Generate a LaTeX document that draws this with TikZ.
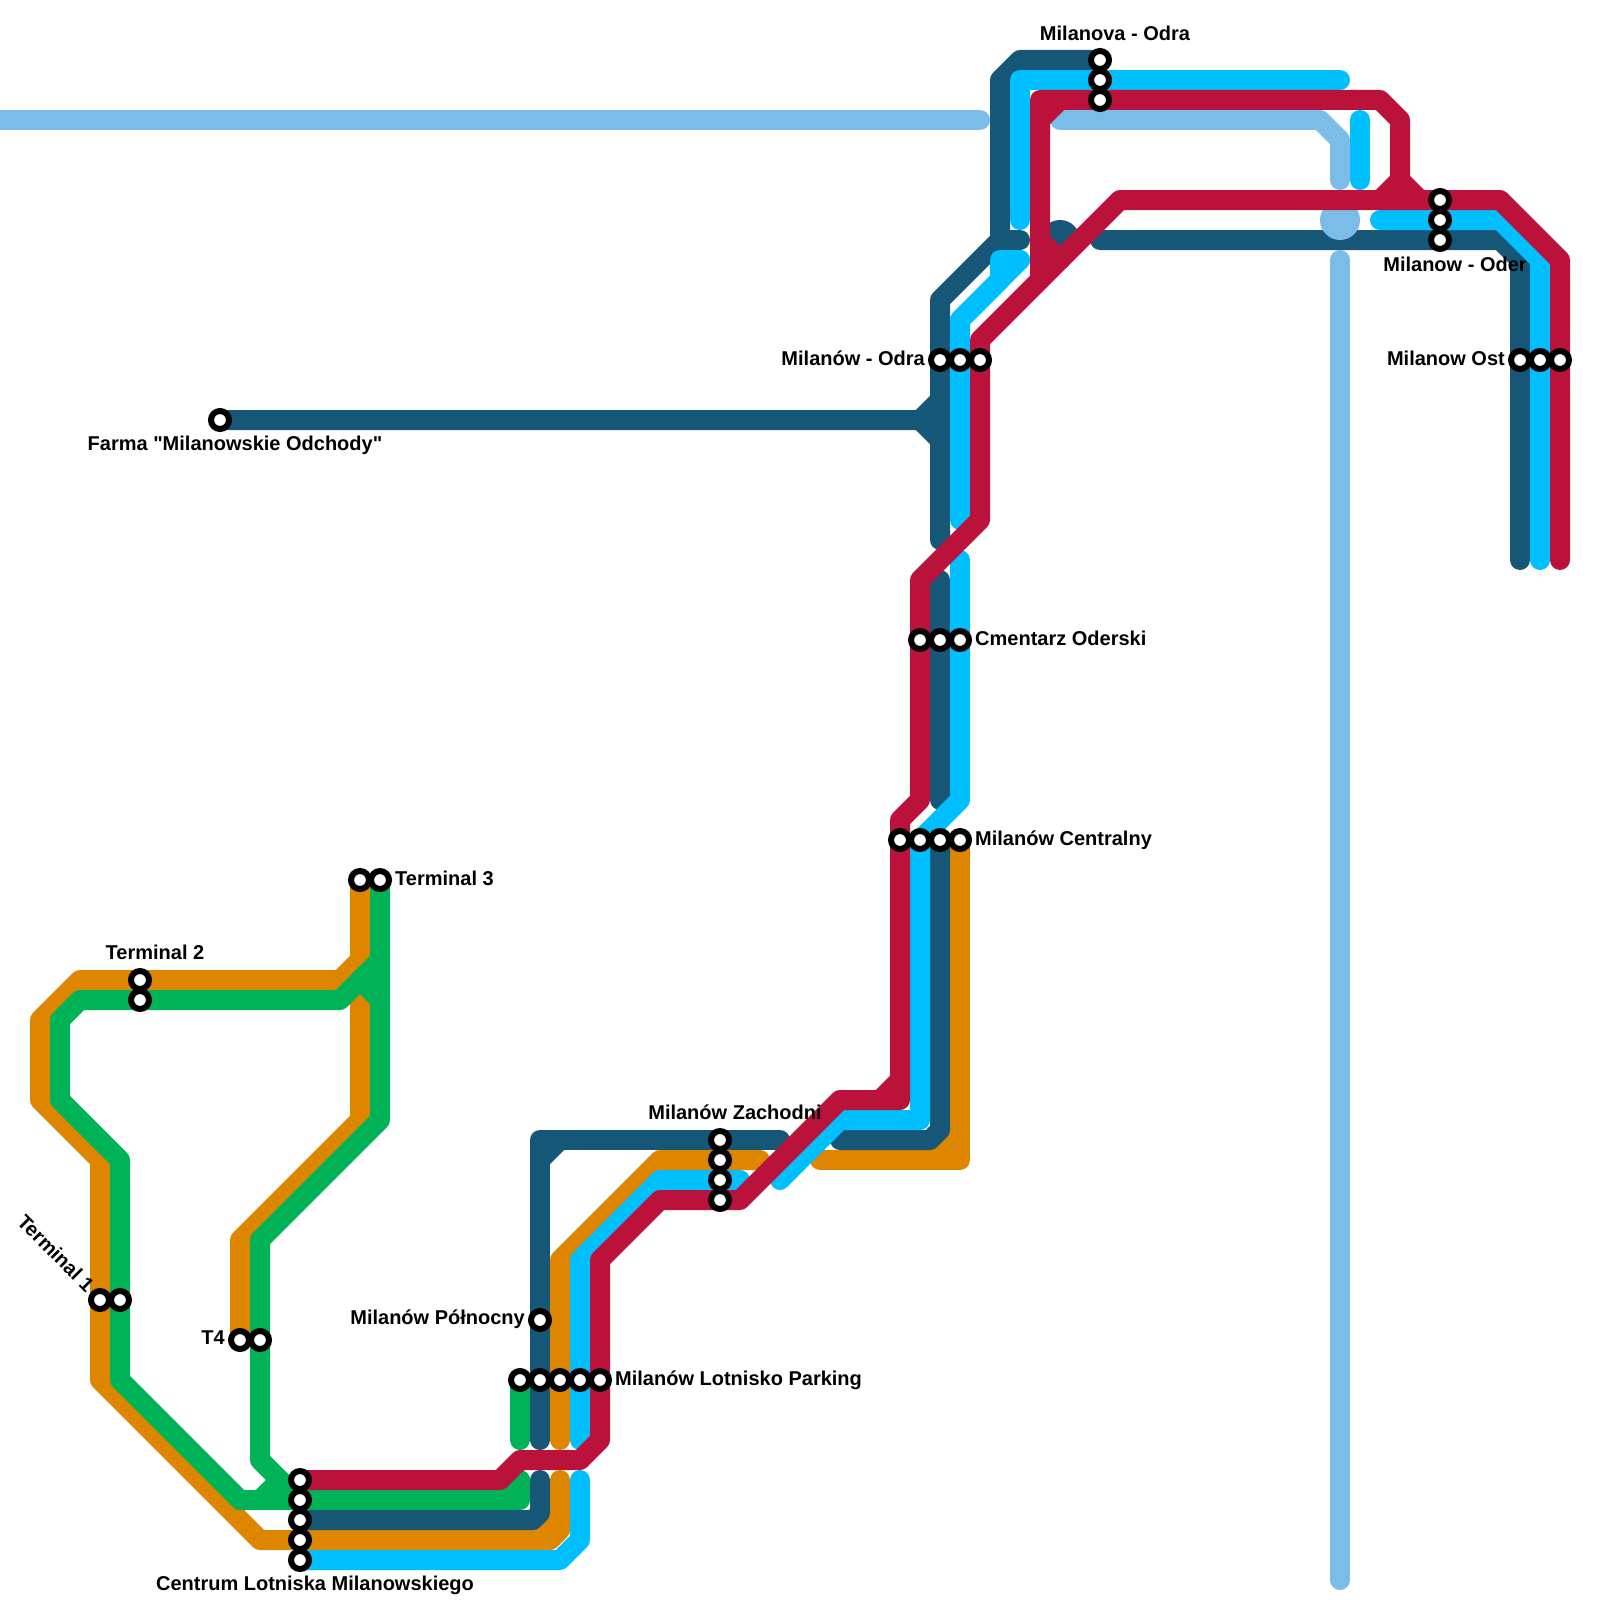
\documentclass[tikz,border=0pt]{standalone}
\usepackage{fontspec}
\setmainfont{Liberation Sans}[Ligatures=TeXOff]
\usetikzlibrary{positioning}
\definecolor{lineRed}{HTML}{BB123C}
\definecolor{lineCyan}{HTML}{00BFFF}
\definecolor{lineSky}{HTML}{7BBCE8}
\definecolor{lineNavy}{HTML}{165778}
\definecolor{lineOrange}{HTML}{DE8600}
\definecolor{lineGreen}{HTML}{00B356}

\begin{document}
\begin{tikzpicture}[
    x=1pt, y=-1pt,
    metro/.style={line width=20pt, line cap=round, line join=round},
    red line/.style={metro, draw=lineRed},
    cyan line/.style={metro, draw=lineCyan},
    sky line/.style={metro, draw=lineSky},
    navy line/.style={metro, draw=lineNavy},
    orange line/.style={metro, draw=lineOrange},
    green line/.style={metro, draw=lineGreen},
    station/.style={draw=black, fill=white, circle, line width=6pt, minimum size=18pt, inner sep=0pt, outer sep=0pt},
    place/.style={font=\fontsize{20}{22}\selectfont\bfseries, inner sep=0pt, text=black}
]
    \useasboundingbox (0,0) rectangle (1600,1600);

    % Orange
    \draw[orange line] (360,880) -- (360,960) -- (340,980) -- (80,980) -- (40,1020) -- (40,1100) -- (100,1160) -- (100,1380) -- (260,1540) -- (550,1540) -- (560,1530) -- (560,1480);
    \draw[orange line] (560,1510) -- (530,1540);
    \draw[orange line] (360,1000) -- (360,1120) -- (240,1240) -- (240,1340);
    \draw[orange line] (760,1160) -- (660,1160) -- (560,1260) -- (560,1440);
    \draw[orange line] (960,840) -- (960,1160) -- (820,1160);
    \draw[orange line] (960,1130) -- (930,1160);

    % Green
    \draw[green line] (380,880) -- (380,1120) -- (260,1240) -- (260,1460) -- (300,1500);
    \draw[green line] (380,960) -- (340,1000) -- (80,1000) -- (60,1020) -- (60,1100) -- (120,1160) -- (120,1380) -- (240,1500) -- (520,1500) -- (520,1480);
    \draw[green line] (360,980) -- (380,1000);
    \draw[green line] (260,1500) -- (280,1480);
    \draw[green line] (500,1500) -- (520,1480);
    \draw[green line] (520,1380) -- (520,1440);

    % Navy
    \draw[navy line] (1100,60) -- (1020,60) -- (1000,80) -- (1000,240) -- (1020,240);
    \draw[navy line] (1000,240) -- (940,300) -- (940,540);
    \draw[navy line] (220,420) -- (920,420) -- (940,400);
    \draw[navy line] (920,420) -- (940,440);
    \fill[lineNavy] (1060,240) circle (20pt);
    \draw[navy line] (1100,240) -- (1500,240) -- (1520,260) -- (1520,560);
    \draw[navy line] (940,580) -- (940,800);
    \draw[navy line] (940,840) -- (940,1130) -- (930,1140) -- (840,1140);
    \draw[navy line] (780,1140) -- (540,1140) -- (540,1440);
    \draw[navy line] (560,1140) -- (540,1160);
    \draw[navy line] (540,1480) -- (540,1513) -- (533,1520) -- (300,1520);

    % Cyan
    \draw[cyan line] (1340,80) -- (1020,80) -- (1020,220);
    \draw[cyan line] (1360,120) -- (1360,180);
    \draw[cyan line] (1380,220) -- (1500,220) -- (1540,260) -- (1540,560);
    \draw[cyan line] (1020,260) -- (1000,260) -- (1000,280) -- (960,320) -- (960,520);
    \draw[cyan line] (1020,260) -- (960,320);
    \draw[cyan line] (960,560) -- (960,800) -- (920,840) -- (920,1120) -- (840,1120) -- (780,1180);
    \draw[cyan line] (740,1180) -- (660,1180) -- (580,1260) -- (580,1440);
    \draw[cyan line] (580,1480) -- (580,1540) -- (560,1560) -- (300,1560);

    % Sky
    \draw[sky line] (0,120) -- (980,120);
    \draw[sky line] (1060,120) -- (1320,120) -- (1340,140) -- (1340,180);
    \fill[lineSky] (1340,220) circle (20pt);
    \draw[sky line] (1340,260) -- (1340,1580);

    % Red
    \draw[red line] (1060,100) -- (1040,120);
    \draw[red line] (1040,280) -- (1040,100) -- (1380,100) -- (1400,120) -- (1400,180) -- (1420,200);
    \draw[red line] (1400,180) -- (1380,200);
    \draw[red line] (1040,240) -- (1060,260);
    \draw[red line] (1560,560) -- (1560,260) -- (1500,200) -- (1120,200) -- (980,340) -- (980,520) -- (920,580) -- (920,800) -- (900,820) -- (900,1100) -- (840,1100) -- (740,1200) -- (660,1200) -- (600,1260) -- (600,1440) -- (580,1460) -- (520,1460) -- (500,1480) -- (300,1480);
    \draw[red line] (900,1080) -- (880,1100);

    % Stations
    \node[station] (novaA) at (1100,60) {};
    \node[station] (novaB) at (1100,80) {};
    \node[station] (novaC) at (1100,100) {};
    \node[station] (oderA) at (1440,200) {};
    \node[station] (oderB) at (1440,220) {};
    \node[station] (oderC) at (1440,240) {};
    \node[station] (ostA) at (1520,360) {};
    \node[station] (ostB) at (1540,360) {};
    \node[station] (ostC) at (1560,360) {};
    \node[station] (odraA) at (940,360) {};
    \node[station] (odraB) at (960,360) {};
    \node[station] (odraC) at (980,360) {};
    \node[station] (farma) at (220,420) {};
    \node[station] (cmentarzA) at (920,640) {};
    \node[station] (cmentarzB) at (940,640) {};
    \node[station] (cmentarzC) at (960,640) {};
    \node[station] (centralA) at (900,840) {};
    \node[station] (centralB) at (920,840) {};
    \node[station] (centralC) at (940,840) {};
    \node[station] (centralD) at (960,840) {};
    \node[station] (termThreeA) at (360,880) {};
    \node[station] (termThreeB) at (380,880) {};
    \node[station] (termTwoA) at (140,980) {};
    \node[station] (termTwoB) at (140,1000) {};
    \node[station] (termOneA) at (100,1300) {};
    \node[station] (termOneB) at (120,1300) {};
    \node[station] (termFourA) at (240,1340) {};
    \node[station] (termFourB) at (260,1340) {};
    \node[station] (zachodA) at (720,1140) {};
    \node[station] (zachodB) at (720,1160) {};
    \node[station] (zachodC) at (720,1180) {};
    \node[station] (zachodD) at (720,1200) {};
    \node[station] (polnoc) at (540,1320) {};
    \node[station] (parkA) at (520,1380) {};
    \node[station] (parkB) at (540,1380) {};
    \node[station] (parkC) at (560,1380) {};
    \node[station] (parkD) at (580,1380) {};
    \node[station] (parkE) at (600,1380) {};
    \node[station] (centrumA) at (300,1480) {};
    \node[station] (centrumB) at (300,1500) {};
    \node[station] (centrumC) at (300,1520) {};
    \node[station] (centrumD) at (300,1540) {};
    \node[station] (centrumE) at (300,1560) {};

    % Labels
    \node[place, above=10pt of novaA, xshift=15pt] (novaLabel) {Milanova - Odra};
    \node[place, below=8pt of oderC, xshift=15pt] (oderLabel) {Milanow - Oder};
    \node[place, left=6pt of ostA, yshift=2pt] (ostLabel) {Milanow Ost};
    \node[place, left=6pt of odraA, yshift=2pt] (odraLabel) {Milanów - Odra};
    \node[place, below=7pt of farma, xshift=15pt] (farmaLabel) {Farma "Milanowskie Odchody"};
    \node[place, right=6pt of cmentarzC, yshift=2pt] (cmentarzLabel) {Cmentarz Oderski};
    \node[place, right=6pt of centralD, yshift=0pt] (centralLabel) {Milanów Centralny};
    \node[place, right=6pt of termThreeB, yshift=2pt] (termThreeLabel) {Terminal 3};
    \node[place, above=11pt of termTwoA, xshift=15pt] (termTwoLabel) {Terminal 2};
    \node[place, rotate=-45] (termOneLabel) at (56,1253) {Terminal 1};
    \node[place, left=6pt of termFourA, yshift=2pt] (termFourLabel) {T4};
    \node[place, above=11pt of zachodA, xshift=15pt] (zachodLabel) {Milanów Zachodni};
    \node[place, left=6pt of polnoc, yshift=1pt] (polnocLabel) {Milanów Północny};
    \node[place, right=6pt of parkE, yshift=0pt] (parkLabel) {Milanów Lotnisko Parking};
    \node[place, below=7pt of centrumE, xshift=15pt] (centrumLabel) {Centrum Lotniska Milanowskiego};
\end{tikzpicture}
\end{document}
